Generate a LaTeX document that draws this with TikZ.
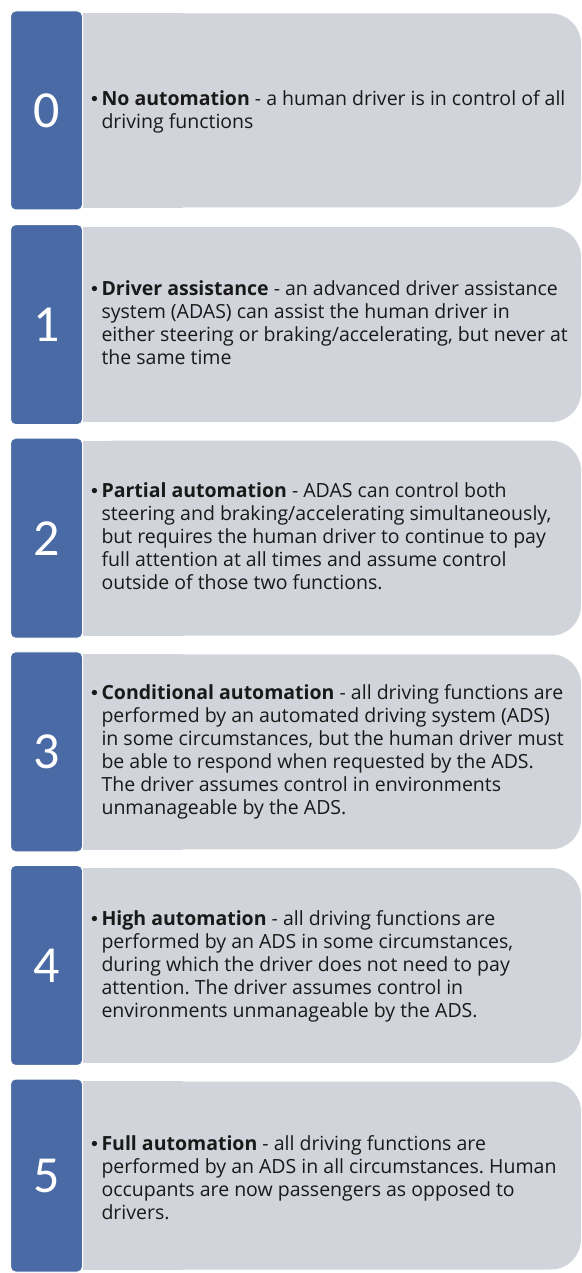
\documentclass[tikz,border=0pt]{standalone}
\usepackage{fontspec}
\setmainfont{Open Sans}
\newfontfamily\numfont{Carlito}
\newfontfamily\dotfont{Liberation Sans}
\usepackage{xcolor}
\definecolor{bluefig}{RGB}{73,106,165}
\definecolor{greyfig}{RGB}{209,213,219}
\frenchspacing

\tikzset{
  numbox/.style={fill=bluefig, draw=white, line width=1pt, rounded corners=5pt,
    minimum width=72pt, inner sep=0pt, text=white,
    font=\numfont\fontsize{52}{52}\selectfont},
  greybox/.style={fill=greyfig, rounded corners=30pt, minimum width=498pt, inner sep=0pt},
  desc/.style={anchor=west, inner sep=0pt, text=black!90,
    font=\fontsize{19.5}{23}\selectfont}
}
\newcommand{\bigdot}{{\dotfont\textbullet}}

\begin{document}
\begin{tikzpicture}[x=1pt, y=-1pt]
  \useasboundingbox (0,0) rectangle (581,1273);
  \foreach \i/\h/\txt in {
    0/199/{\textbf{No automation} - a human driver is in control of all\\ & driving functions},
    1/200/{\textbf{Driver assistance} - an advanced driver assistance\\ & system (ADAS) can assist the human driver in\\ & either steering or braking/accelerating, but never at\\ & the same time},
    2/200/{\textbf{Partial automation} - ADAS can control both\\ & steering and braking/accelerating simultaneously,\\ & but requires the human driver to continue to pay\\ & full attention at all times and assume control\\ & outside of those two functions.},
    3/200/{\textbf{Conditional automation} - all driving functions are\\ & performed by an automated driving system (ADS)\\ & in some circumstances, but the human driver must\\ & be able to respond when requested by the ADS.\\ & The driver assumes control in environments\\ & unmanageable by the ADS.},
    4/200/{\textbf{High automation} - all driving functions are\\ & performed by an ADS in some circumstances,\\ & during which the driver does not need to pay\\ & attention. The driver assumes control in\\ & environments unmanageable by the ADS.},
    5/193/{\textbf{Full automation} - all driving functions are\\ & performed by an ADS in all circumstances. Human\\ & occupants are now passengers as opposed to\\ & drivers.}} {
    \pgfmathsetmacro\top{11+213.6*\i}
    % grey panel, only the right side rounded
    \node[greybox, minimum height=\h pt-5pt] (g\i) at (332,\top+\h/2) {};
    \fill[greyfig] (g\i.north west) rectangle ([xshift=100pt]g\i.south west);
    \node[numbox, minimum height=\h pt] (n\i) at (46.5,\top+\h/2) {\i};
    \node[desc] (t\i) at (91,\top+101) {\begin{tabular}{@{}l@{\hspace{3.5pt}}l@{}}\bigdot & \txt\end{tabular}};
  }
\end{tikzpicture}
\end{document}
